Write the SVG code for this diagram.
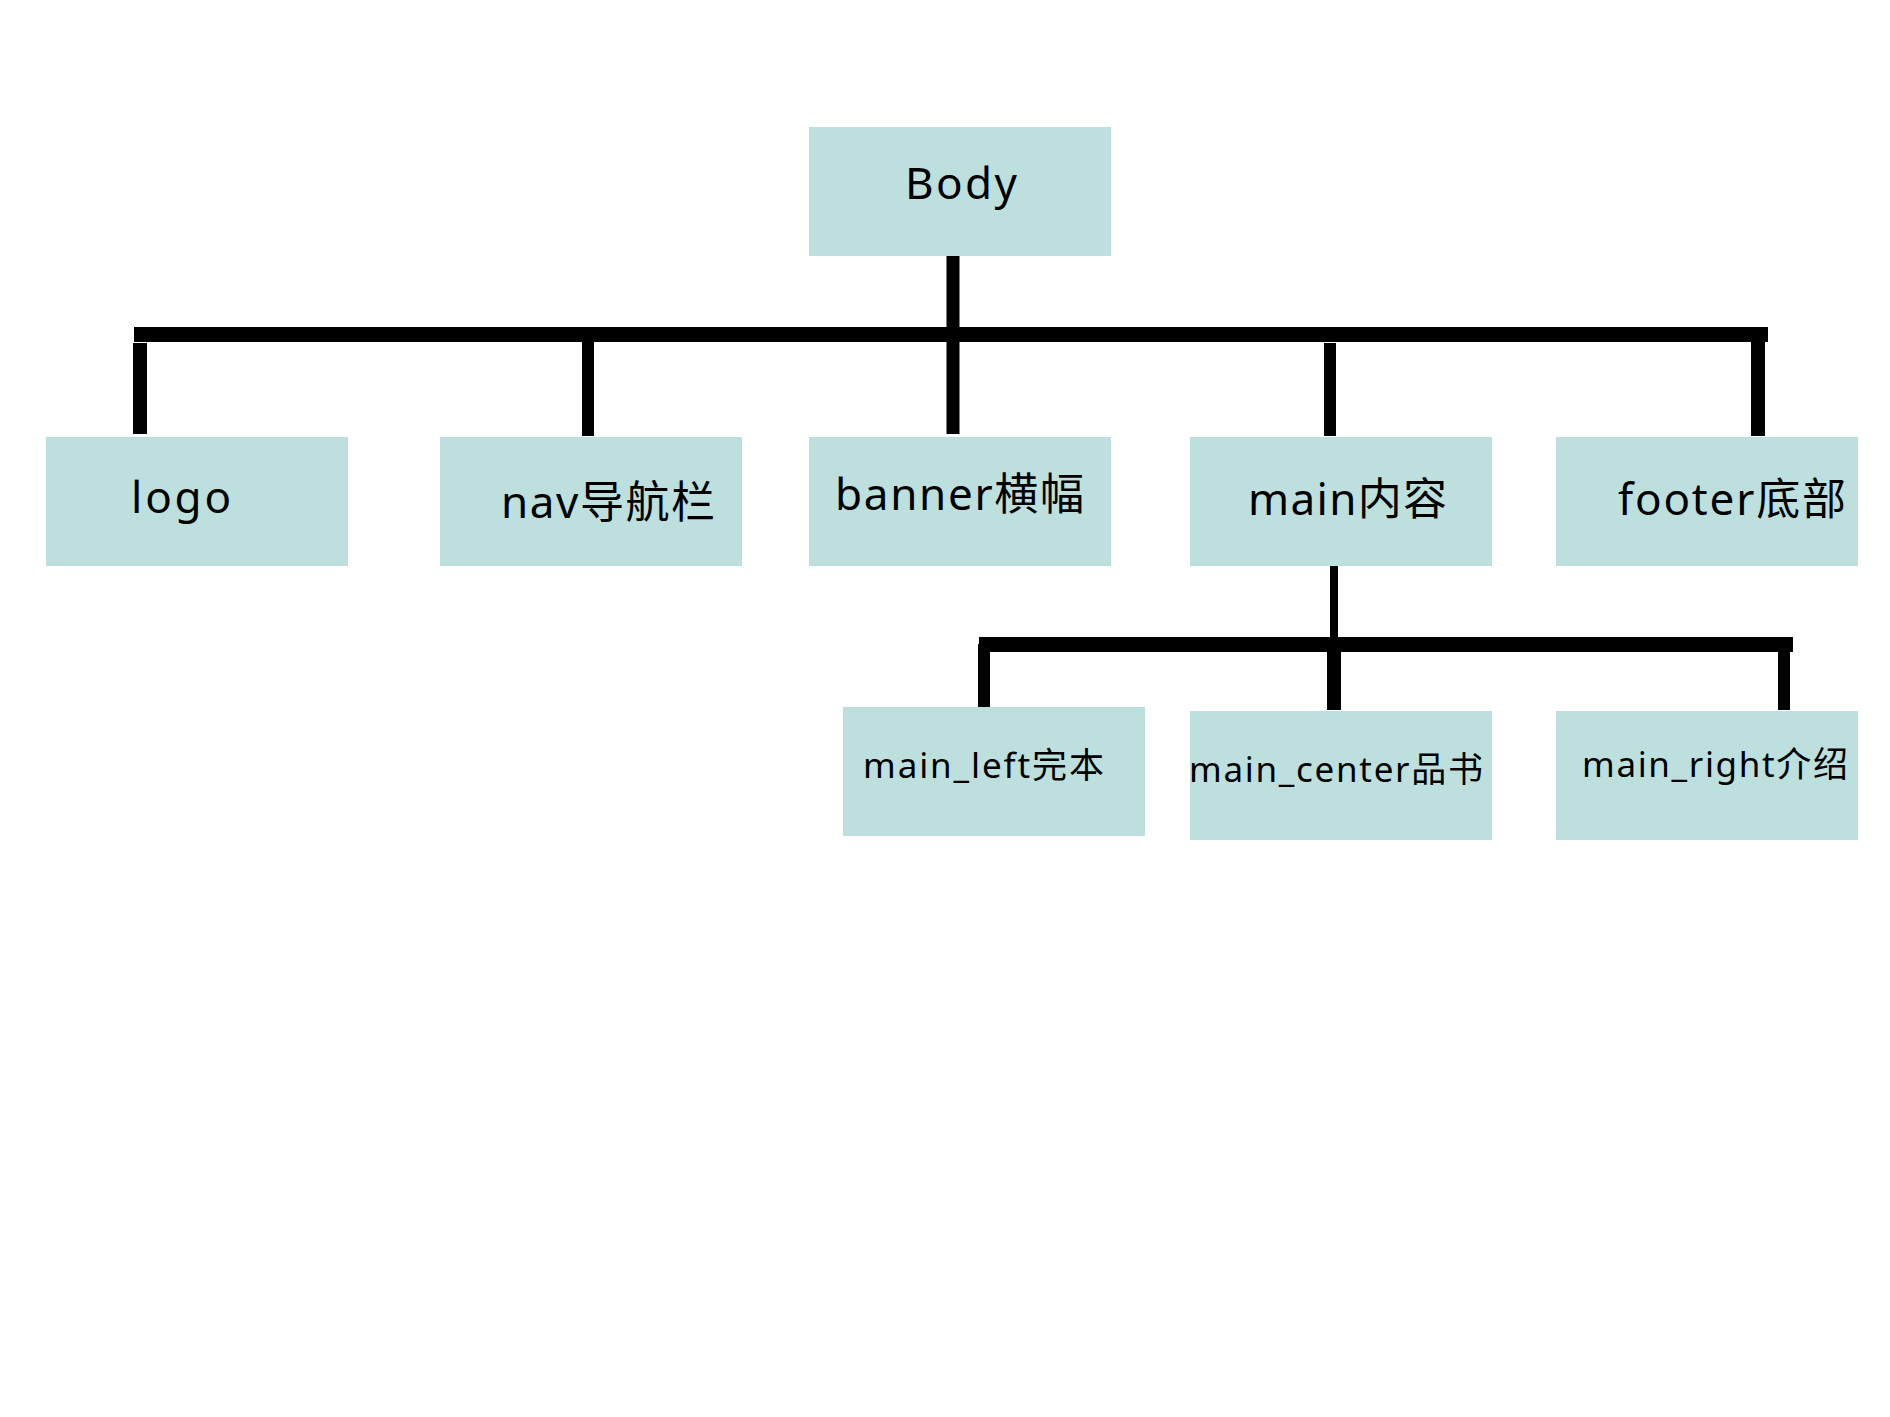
<svg xmlns="http://www.w3.org/2000/svg" width="1890" height="1417" viewBox="0 0 1890 1417">
<style>
.box{fill:#bde0df;}
.t{font-family:"Noto Sans","Noto Sans CJK SC",sans-serif;fill:#000;}
.big{font-size:44px;}
.small{font-size:35px;}
.c{stroke:#000;fill:none;stroke-linecap:butt;}
</style>
<rect width="1890" height="1417" fill="#fff"/>
<g id="connectors">
<line class="c" x1="953" y1="253" x2="953" y2="434" stroke-width="13"/>
<line class="c" x1="134" y1="334.5" x2="1768" y2="334.5" stroke-width="15"/>
<line class="c" x1="140" y1="343" x2="140" y2="434" stroke-width="14"/>
<line class="c" x1="588" y1="342" x2="588" y2="436" stroke-width="12"/>
<line class="c" x1="1330" y1="343" x2="1330" y2="436" stroke-width="12"/>
<line class="c" x1="1758" y1="342" x2="1758" y2="436" stroke-width="14"/>
<line class="c" x1="1334" y1="561" x2="1334" y2="640" stroke-width="8"/>
<line class="c" x1="979" y1="644.5" x2="1793" y2="644.5" stroke-width="15"/>
<line class="c" x1="984" y1="644" x2="984" y2="707" stroke-width="12"/>
<line class="c" x1="1334" y1="650" x2="1334" y2="710" stroke-width="14"/>
<line class="c" x1="1784" y1="650" x2="1784" y2="710" stroke-width="12"/>
</g>
<g id="body"><rect class="box" x="809" y="127" width="302" height="129"/><text class="t big" x="905" y="199" textLength="112" lengthAdjust="spacing">Body</text></g>
<g id="logo"><rect class="box" x="46" y="437" width="302" height="129"/><text class="t big" x="131" y="513" textLength="100" lengthAdjust="spacing">logo</text></g>
<g id="nav"><rect class="box" x="440" y="437" width="302" height="129"/><text class="t big" x="501" y="518" textLength="214" lengthAdjust="spacing">nav导航栏</text></g>
<g id="banner"><rect class="box" x="809" y="437" width="302" height="129"/><text class="t big" x="835" y="510" textLength="249" lengthAdjust="spacing">banner横幅</text></g>
<g id="main"><rect class="box" x="1190" y="437" width="302" height="129"/><text class="t big" x="1248" y="515" textLength="199" lengthAdjust="spacing">main内容</text></g>
<g id="footer"><rect class="box" x="1556" y="437" width="302" height="129"/><text class="t big" x="1618" y="515" textLength="228" lengthAdjust="spacing">footer底部</text></g>
<g id="main_left"><rect class="box" x="843" y="707" width="302" height="129"/><text class="t small" x="863" y="778" textLength="241" lengthAdjust="spacing">main_left完本</text></g>
<g id="main_center"><rect class="box" x="1190" y="711" width="302" height="129"/><text class="t small" x="1189" y="782" textLength="294" lengthAdjust="spacing">main_center品书</text></g>
<g id="main_right"><rect class="box" x="1556" y="711" width="302" height="129"/><text class="t small" x="1582" y="777" textLength="266" lengthAdjust="spacing">main_right介绍</text></g>
</svg>
